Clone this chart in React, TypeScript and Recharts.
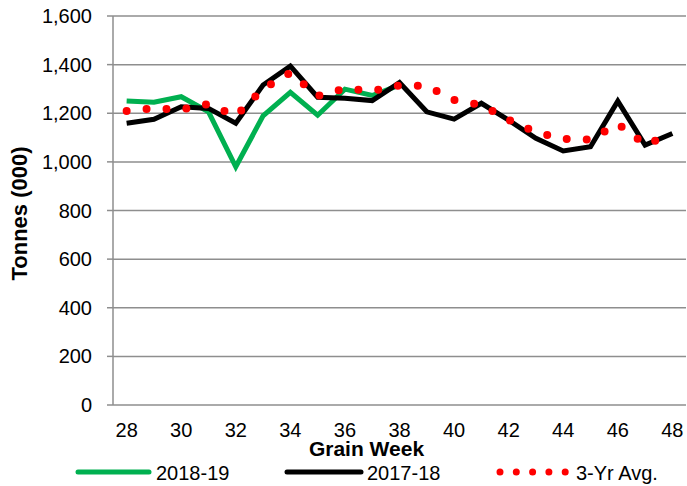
import React from 'react';
import { LineChart, Line, XAxis, YAxis, CartesianGrid, Legend } from 'recharts';

const weeks = [28, 29, 30, 31, 32, 33, 34, 35, 36, 37, 38, 39, 40, 41, 42, 43, 44, 45, 46, 47, 48];
const crop2018_19: (number | null)[] = [1250, 1245, 1268, 1206, 980, 1189, 1286, 1192, 1299, 1273, 1316, null, null, null, null, null, null, null, null, null, null];
const crop2017_18 = [1159, 1175, 1227, 1220, 1159, 1316, 1394, 1266, 1262, 1252, 1326, 1206, 1176, 1241, 1172, 1097, 1045, 1062, 1250, 1069, 1117];
const avg3yr = [1209, 1220, 1215, 1238, 1189, 1301, 1366, 1271, 1302, 1292, 1314, 1312, 1255, 1234, 1173, 1122, 1094, 1092, 1156, 1072, 1113];
const weekTicks = [28, 30, 32, 34, 36, 38, 40, 42, 44, 46, 48];
const boundaryTicks = [27.5, 28.5, 29.5, 30.5, 31.5, 32.5, 33.5, 34.5, 35.5, 36.5, 37.5, 38.5, 39.5, 40.5, 41.5, 42.5, 43.5, 44.5, 45.5, 46.5, 47.5, 48.5];
const yTicks = [0, 200, 400, 600, 800, 1000, 1200, 1400, 1600];
const seriesNames = ['2018-19', '2017-18', '3-Yr Avg.'];

const data = weeks.map((w, i) => ({
  week: w,
  a: crop2018_19[i],
  b: crop2017_18[i],
  c: avg3yr[i],
}));

const FONT = '"Liberation Sans", Arial, sans-serif';
const GREY = '#8e8e8e';
const GREEN = '#00B050';
const RED = '#FF0000';

const legendX = [78, 287, 500];

const LegendContent = () => (
  <svg width={687} height={30} style={{ display: 'block' }}>
    <line x1={legendX[0]} x2={legendX[0] + 71} y1={16} y2={16} stroke={GREEN} strokeWidth={5} strokeLinecap="round" />
    <text x={legendX[0] + 78} y={24} fontFamily={FONT} fontSize={20} fill="#000">{seriesNames[0]}</text>
    <line x1={legendX[1]} x2={legendX[1] + 74} y1={16} y2={16} stroke="#000" strokeWidth={5} strokeLinecap="round" />
    <text x={legendX[1] + 80} y={24} fontFamily={FONT} fontSize={20} fill="#000">{seriesNames[1]}</text>
    <line x1={legendX[2]} x2={legendX[2] + 66} y1={16} y2={16} stroke={RED} strokeWidth={7} strokeLinecap="round" strokeDasharray="0 16.3" />
    <text x={legendX[2] + 76} y={24} fontFamily={FONT} fontSize={20} fill="#000">{seriesNames[2]}</text>
  </svg>
);

export default function App() {
  return (
    <div style={{ position: 'absolute', left: 0, top: 0, width: 687, height: 486, background: '#fff' }}>
      <LineChart width={687} height={486} data={data} margin={{ top: 16, right: 1, bottom: 0, left: 0 }}>
        <CartesianGrid xAxisId="week" vertical={false} stroke={GREY} strokeWidth={1.5} />
        <XAxis
          xAxisId="grid"
          type="number"
          dataKey="week"
          domain={[27.5, 48.5]}
          ticks={boundaryTicks}
          tick={false}
          tickSize={6}
          height={0}
          axisLine={{ stroke: GREY, strokeWidth: 1.5 }}
          tickLine={{ stroke: GREY, strokeWidth: 1.5 }}
          allowDataOverflow
        />
        <XAxis
          xAxisId="week"
          type="number"
          dataKey="week"
          domain={[27.5, 48.5]}
          ticks={weekTicks}
          interval={0}
          height={51}
          tickSize={6}
          tickMargin={12}
          axisLine={false}
          tickLine={false}
          tick={{ fill: '#000', fontSize: 20, fontFamily: FONT }}
          allowDataOverflow
          label={{
            value: 'Grain Week',
            position: 'insideBottom',
            offset: 0,
            dx: -33,
            style: { fill: '#000', fontSize: 21, fontWeight: 700, fontFamily: FONT },
          }}
        />
        <YAxis
          domain={[0, 1600]}
          ticks={yTicks}
          interval={0}
          width={113}
          tickSize={6}
          tickMargin={15}
          tickFormatter={(v: number) => v.toLocaleString('en-US')}
          axisLine={{ stroke: GREY, strokeWidth: 1.5 }}
          tickLine={{ stroke: GREY, strokeWidth: 1.5 }}
          tick={{ fill: '#000', fontSize: 20, fontFamily: FONT }}
          label={{
            value: 'Tonnes (000)',
            angle: -90,
            position: 'insideLeft',
            offset: 19,
            dy: 3,
            style: { textAnchor: 'middle', fill: '#000', fontSize: 22, fontWeight: 700, fontFamily: FONT },
          }}
        />
        <Legend verticalAlign="bottom" height={30} content={<LegendContent />} wrapperStyle={{ left: 0, bottom: 0, width: 687, height: 30 }} />
        <Line xAxisId="week" name={seriesNames[0]} dataKey="a" stroke={GREEN} strokeWidth={5} dot={false} activeDot={false} isAnimationActive={false} connectNulls={false} strokeLinejoin="miter" />
        <Line xAxisId="week" name={seriesNames[1]} dataKey="b" stroke="#000" strokeWidth={5} dot={false} activeDot={false} isAnimationActive={false} strokeLinejoin="miter" />
        <Line xAxisId="week" name={seriesNames[2]} dataKey="c" stroke={RED} strokeWidth={8} strokeDasharray="0 20" strokeLinecap="round" dot={false} activeDot={false} isAnimationActive={false} />
      </LineChart>
    </div>
  );
}
